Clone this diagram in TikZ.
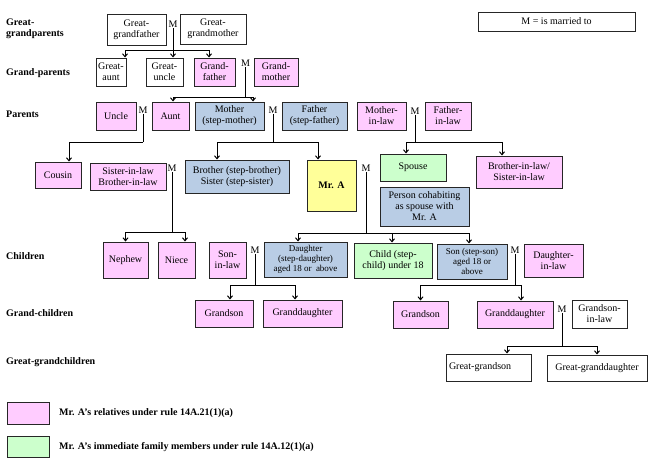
\documentclass[tikz,border=0pt]{standalone}
\usepackage{fontspec}
\setmainfont{Liberation Serif}
\usetikzlibrary{arrows.meta}
\definecolor{relpink}{RGB}{255,204,255}
\definecolor{stepblue}{RGB}{185,205,229}
\definecolor{immgreen}{RGB}{204,255,204}
\definecolor{mryellow}{RGB}{255,255,153}

\begin{document}
\begin{tikzpicture}[x=1pt, y=-1pt, >={Straight Barb[length=3pt,width=5pt]},
  box/.style={draw=black!85, line width=1pt, inner sep=1pt, align=center, font=\fontsize{10}{11}\selectfont},
  plainbox/.style={box, fill=white},
  relbox/.style={box, fill=relpink},
  immbox/.style={box, fill=immgreen},
  blubox/.style={box, fill=stepblue},
  selfbox/.style={box, fill=mryellow, font=\bfseries\fontsize{10}{11}\selectfont},
  mlab/.style={inner sep=0.5pt, font=\fontsize{10}{11}\selectfont},
  rowlab/.style={anchor=west, align=left, inner sep=0pt, font=\bfseries\fontsize{10}{11}\selectfont},
  link/.style={line width=1pt}]
  \useasboundingbox (0,0) rectangle (654,463);

  % generation labels
  \node(lgg)[rowlab] at (6,28.5) {Great-\\grandparents};
  \node(lgp)[rowlab] at (6,73) {Grand-parents};
  \node(lpa)[rowlab] at (6,114) {Parents};
  \node(lch)[rowlab] at (6,256) {Children};
  \node(lgc)[rowlab] at (6,313) {Grand-children};
  \node(lggc)[rowlab] at (6,362) {Great-grandchildren};

  \node(key)[plainbox, minimum width=157, minimum height=19] at (556.5,21.5) {M = is married to};

  % great-grandparents
  \node(ggf)[plainbox, minimum width=59, minimum height=31] at (136.5,29.5) {Great-\\grandfather};
  \node(ma)[mlab] at (173,24) {M};
  \node(ggm)[plainbox, minimum width=66, minimum height=30] at (213,29) {Great-\\grandmother};

  % grand-parents
  \node(ga)[plainbox, minimum width=30, minimum height=28] at (111,72) {Great-\\aunt};
  \node(gu)[plainbox, minimum width=37, minimum height=28] at (164.5,72) {Great-\\uncle};
  \node(gf)[relbox, minimum width=41, minimum height=28] at (214.5,72) {Grand-\\father};
  \node(mb)[mlab] at (245.5,63) {M};
  \node(gm)[relbox, minimum width=44, minimum height=28] at (276,72) {Grand-\\mother};

  % parents
  \node(unc)[relbox, minimum width=40, minimum height=28] at (116,116) {Uncle};
  \node(mc)[mlab] at (143,110) {M};
  \node(aunt)[relbox, minimum width=37, minimum height=28] at (170.5,116) {Aunt};
  \node(mot)[blubox, minimum width=69, minimum height=28] at (229.5,116) {Mother\\(step-mother)};
  \node(md)[mlab] at (273,110) {M};
  \node(fat)[blubox, minimum width=65, minimum height=28] at (314.5,116) {Father\\(step-father)};
  \node(mil)[relbox, minimum width=49, minimum height=28] at (381.5,116) {Mother-\\in-law};
  \node(me)[mlab] at (415,111) {M};
  \node(fil)[relbox, minimum width=46, minimum height=28] at (448,116) {Father-\\in-law};

  % Mr. A's generation
  \node(cou)[relbox, minimum width=46, minimum height=26] at (58,175) {Cousin};
  \node(sil)[relbox, minimum width=76, minimum height=27] at (128,176.5) {Sister-in-law\\Brother-in-law};
  \node(mf)[mlab] at (172,168) {M};
  \node(bro)[blubox, minimum width=104, minimum height=33] at (237,176.5) {Brother (step-brother)\\Sister (step-sister)};
  \node(mra)[selfbox, minimum width=49, minimum height=51] at (331.5,185.5) {Mr. A};
  \node(mg)[mlab] at (366,168) {M};
  \node(spo)[immbox, minimum width=66, minimum height=27] at (413,167.5) {Spouse};
  \node(coh)[blubox, minimum width=89, minimum height=39] at (424.5,206.5) {Person cohabiting\\as spouse with\\Mr. A};
  \node(bil)[relbox, minimum width=86, minimum height=32] at (519,172) {Brother-in-law/\\Sister-in-law};

  % children
  \node(nep)[relbox, minimum width=45, minimum height=36] at (125.5,260) {Nephew};
  \node(nie)[relbox, minimum width=37, minimum height=36] at (176.5,260) {Niece};
  \node(sonil)[relbox, minimum width=37, minimum height=36] at (227.5,260) {Son-\\in-law};
  \node(mh)[mlab] at (255,250) {M};
  \node(dau)[blubox, minimum width=83, minimum height=35, font=\fontsize{9}{10}\selectfont] at (305.5,259.5) {Daughter\\(step-daughter)\\aged 18 or~~above};
  \node(chi)[immbox, minimum width=78, minimum height=35] at (393,260.5) {Child (step-\\child) under 18};
  \node(son)[blubox, minimum width=70, minimum height=35, font=\fontsize{9}{10}\selectfont] at (472,261.5) {Son (step-son)\\aged 18 or\\above};
  \node(mi)[mlab] at (515,250) {M};
  \node(dil)[relbox, minimum width=59, minimum height=33] at (553.5,260.5) {Daughter-\\in-law};

  % grand-children
  \node(gsl)[relbox, minimum width=58, minimum height=27] at (224,313.5) {Grandson};
  \node(gdl)[relbox, minimum width=79, minimum height=27] at (302.5,313.5) {Granddaughter};
  \node(gsr)[relbox, minimum width=55, minimum height=27] at (420.5,314.5) {Grandson};
  \node(gdr)[relbox, minimum width=76, minimum height=27] at (515,314.5) {Granddaughter};
  \node(mj)[mlab] at (562,309) {M};
  \node(gsil)[plainbox, minimum width=55, minimum height=28] at (599.5,314) {Grandson-\\in-law};

  % great-grandchildren
  \node(ggs)[plainbox, minimum height=27, text width=79, inner xsep=3, align=left] at (488.5,367.5) {Great-grandson};
  \node(ggd)[plainbox, minimum width=100, minimum height=26] at (597,368) {Great-granddaughter};

  % legend
  \node(kpk)[relbox, minimum width=42, minimum height=22] at (28,413) {};
  \node(kgr)[immbox, minimum width=42, minimum height=21] at (28,446.5) {};
  \node(tpk)[rowlab] at (59,413) {Mr. A’s relatives under rule 14A.21(1)(a)};
  \node(tgr)[rowlab] at (59,447) {Mr. A’s immediate family members under rule 14A.12(1)(a)};

  % marriage lines
  \coordinate (ja) at (173,50);
  \draw[link] (ma.south) -- (ja);
  \draw[link, ->] (ja) -| ([xshift=14]ga.north);
  \draw[link, ->] (ja) -| ([xshift=8.5]gu.north);
  \draw[link, ->] (ja) -| ([xshift=-5.5]gf.north);

  \coordinate (jb) at (245.5,97);
  \draw[link] (mb.south) -- (jb);
  \draw[link, ->] (jb) -| ([xshift=2.5]aunt.north);
  \draw[link, ->] (jb) -| ([xshift=23.5]mot.north);

  \coordinate (jc) at (143,142);
  \draw[link] (mc.south) -- (jc);
  \draw[link, ->] (jc) -| ([xshift=11]cou.north);

  \coordinate (jd) at (273,142);
  \draw[link] (md.south) -- (jd);
  \draw[link, ->] (jd) -| ([xshift=-20]bro.north);
  \draw[link, ->] (jd) -| ([xshift=-13.5]mra.north);

  \coordinate (je) at (415,142);
  \draw[link] (me.south) -- (je);
  \draw[link, ->] (je) -| ([xshift=-7]spo.north);
  \draw[link, ->] (je) -| ([xshift=-17]bil.north);

  \coordinate (jf) at (172,232);
  \draw[link] (mf.south) -- (jf);
  \draw[link, ->] (jf) -| (nep.north);
  \draw[link, ->] (jf) -| ([xshift=8.5]nie.north);

  \coordinate (jg) at (366,233);
  \draw[link] (mg.south) -- (jg);
  \draw[link, ->] (jg) -| ([xshift=-7.5]dau.north);
  \draw[link, ->] (jg) -| ([xshift=-1]chi.north);
  \draw[link, ->] (jg) -| ([xshift=-3]son.north);

  \coordinate (jh) at (255,285);
  \draw[link] (mh.south) -- (jh);
  \draw[link, ->] (jh) -| ([xshift=6]gsl.north);
  \draw[link, ->] (jh) -| ([xshift=-7.5]gdl.north);

  \coordinate (ji) at (515,285);
  \draw[link] (mi.south) -- (ji);
  \draw[link, ->] (ji) -| (gsr.north);
  \draw[link, ->] (ji) -| ([xshift=6]gdr.north);

  \coordinate (jj) at (562,346);
  \draw[link] (mj.south) -- (jj);
  \draw[link, ->] (jj) -| ([xshift=18.5]ggs.north);
  \draw[link, ->] (jj) -| (ggd.north);
\end{tikzpicture}
\end{document}
